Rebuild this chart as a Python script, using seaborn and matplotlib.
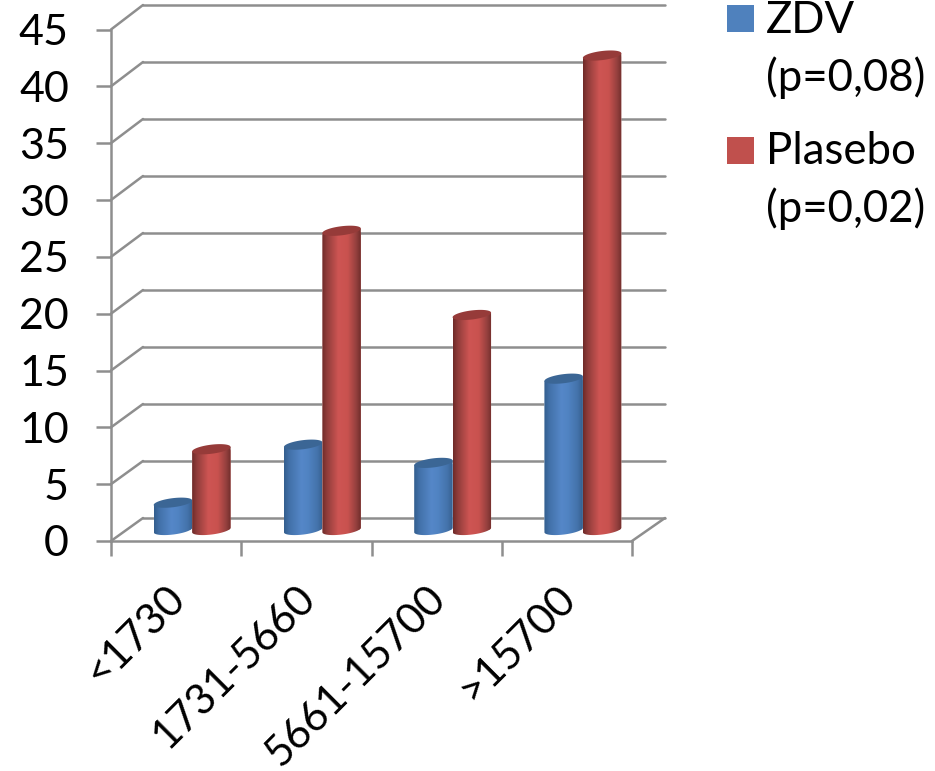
import numpy as np
import pandas as pd
import seaborn as sns
import matplotlib
matplotlib.use("Agg")
import matplotlib.pyplot as plt
from matplotlib.colors import LinearSegmentedColormap
from matplotlib.patches import ConnectionPatch, Polygon, Rectangle
from matplotlib.path import Path
from matplotlib.transforms import ScaledTranslation

# Chart values
categories = ["<1730", "1731-5660", "5661-15700", ">15700"]
zdv = [2.4, 7.5, 5.9, 13.3]
plasebo = [7.1, 26.3, 18.9, 41.7]
series_names = ["ZDV", "Plasebo"]
y_ticks = list(range(0, 50, 5))
legend_rows = [("ZDV", "(p=0,08)"), ("Plasebo", "(p=0,02)")]

W, H = 935, 771
GRID = "#8E8E8E"
LINE = 1.8

sns.set_theme(style="white")
plt.rcParams["font.family"] = ["Lato", "DejaVu Sans"]

fig = plt.figure(figsize=(W / 100, H / 100), dpi=100, facecolor="white")


def plane(x0, x1, y_bottom, y_top, **kw):
    """Axes whose box is given in pixels measured from the top-left corner."""
    ax = fig.add_axes([x0 / W, 1 - y_bottom / H, (x1 - x0) / W, (y_bottom - y_top) / H], **kw)
    ax.set_xlim(-0.5, 3.5)
    ax.set_ylim(0, 45)
    ax.patch.set_alpha(0)
    return ax


# Three planes of the pseudo-3D box: rear wall, bar plane, front edge
ax_back = plane(143, 665, 518, 5)
ax_bars = plane(127, 648, 530, 18)
ax_front = plane(111, 632, 541, 29.5)

ax_back.set_xticks([])
ax_back.set_yticks(y_ticks)
ax_back.tick_params(left=False, labelleft=False)
ax_back.grid(axis="y", color=GRID, lw=LINE, clip_on=False)
ax_back.set_axisbelow(True)
for s in ax_back.spines.values():
    s.set_visible(False)

# Front edge: value axis and category axis
ax_front.set_yticks(y_ticks)
ax_front.set_xticks(np.arange(-0.5, 4, 1))
ax_front.set_xticklabels([])
ax_front.set_xticks(range(4), labels=categories, minor=True)
ax_front.tick_params(axis="y", left=True, direction="out", length=10.8, width=LINE, color=GRID,
                     labelsize=31, pad=19.5, labelcolor="black")
ax_front.tick_params(axis="x", which="major", bottom=True, direction="out", length=10.5,
                     width=LINE, color=GRID)
ax_front.tick_params(axis="x", which="minor", bottom=False, length=0, labelsize=30.5, pad=27,
                     labelcolor="black")
label_shift = ScaledTranslation(-8 / 72, 0, fig.dpi_scale_trans)
for lab in ax_front.get_xticklabels(minor=True):
    lab.set_rotation(45)
    lab.set_ha("right")
    lab.set_rotation_mode("anchor")
    lab.set_transform(lab.get_transform() + label_shift)
for side in ("top", "right"):
    ax_front.spines[side].set_visible(False)
for side in ("left", "bottom"):
    ax_front.spines[side].set_color(GRID)
    ax_front.spines[side].set_linewidth(LINE)

# Diagonal edges joining the front edge to the rear wall
for v in y_ticks:
    fig.add_artist(ConnectionPatch((-0.5, v), (-0.5, v), ax_front.transData, ax_back.transData,
                                   color=GRID, lw=LINE))
fig.add_artist(ConnectionPatch((3.5, 0), (3.5, 0), ax_front.transData, ax_back.transData,
                               color=GRID, lw=LINE))

# Bars
df = pd.DataFrame({
    "category": categories * 2,
    "series": [series_names[0]] * 4 + [series_names[1]] * 4,
    "value": zdv + plasebo,
})
palette = {series_names[0]: "#4F81BD", series_names[1]: "#C0504D"}
sns.barplot(data=df, x="category", y="value", hue="series", hue_order=series_names,
            palette=palette, width=0.59, gap=0, saturation=1, legend=False, ax=ax_bars)
ax_bars.set_xlim(-0.5, 3.5)
ax_bars.set_ylim(0, 45)
ax_bars.axis("off")

ramps = {
    series_names[0]: LinearSegmentedColormap.from_list("blue_cyl", [
        (0.0, "#335E8D"), (0.14, "#4271A9"), (0.45, "#5587C8"),
        (0.62, "#5083C2"), (0.86, "#4473AB"), (1.0, "#36608E")]),
    series_names[1]: LinearSegmentedColormap.from_list("red_cyl", [
        (0.0, "#6E2A28"), (0.12, "#8F3C3A"), (0.42, "#CE5553"),
        (0.66, "#C9524F"), (0.88, "#94403E"), (1.0, "#6F2C2A")]),
}
cap_colours = {series_names[0]: "#3B6695", series_names[1]: "#963B39"}

# Ellipse half-height and tilt, in value units
CAP_RY, CAP_TILT = 0.40, 0.20
theta = np.linspace(0, 2 * np.pi, 121)
gradient = np.linspace(0, 1, 256)[None, :]

for container, name in zip(ax_bars.containers, series_names):
    z = 3 if name == series_names[0] else 4
    for bar in container:
        x0, w, v = bar.get_x(), bar.get_width(), bar.get_height()
        xs = x0 + w / 2 + w / 2 * np.cos(theta)
        rim = CAP_RY * np.sin(theta) + CAP_TILT * np.cos(theta)

        # Cylinder outline: flat sides, rounded lower rim
        lower = theta[60:121]
        low_x = x0 + w / 2 + w / 2 * np.cos(lower)
        low_y = CAP_RY * np.sin(lower) + CAP_TILT * np.cos(lower)
        outline = np.vstack([
            np.column_stack([low_x, low_y]),
            [[x0 + w, v + CAP_TILT], [x0, v - CAP_TILT]],
        ])
        body = Path(np.vstack([outline, outline[:1]]), closed=True)

        bar.set_zorder(z)
        bar.set_clip_path(body, transform=ax_bars.transData)
        im = ax_bars.imshow(gradient, cmap=ramps[name], aspect="auto", zorder=z,
                            extent=(x0, x0 + w, -CAP_RY - CAP_TILT, v + CAP_TILT),
                            interpolation="bilinear")
        # The lower rim dips below the axes box, so only the outline may clip it
        im.set_clip_box(fig.bbox)
        im.set_clip_path(body, transform=ax_bars.transData)
        ax_bars.add_patch(Polygon(np.column_stack([xs, v + rim]), closed=True,
                                  facecolor=cap_colours[name], edgecolor="none", zorder=z))
ax_bars.set_xlim(-0.5, 3.5)
ax_bars.set_ylim(0, 45)

# Legend
swatches = [(727, 5), (727, 137)]
baselines = [(33, 91), (164, 222)]
for (sx, sy), (first, second), (b1, b2), name in zip(swatches, legend_rows, baselines, series_names):
    fig.add_artist(Rectangle((sx / W, 1 - (sy + 27) / H), 27 / W, 27 / H,
                             transform=fig.transFigure, facecolor=palette[name], edgecolor="none"))
    fig.text(766 / W, 1 - b1 / H, first, fontsize=31.5, color="black", va="baseline", ha="left")
    fig.text(766 / W, 1 - b2 / H, second, fontsize=31.5, color="black", va="baseline", ha="left")

fig.savefig("out.png", dpi=100)
